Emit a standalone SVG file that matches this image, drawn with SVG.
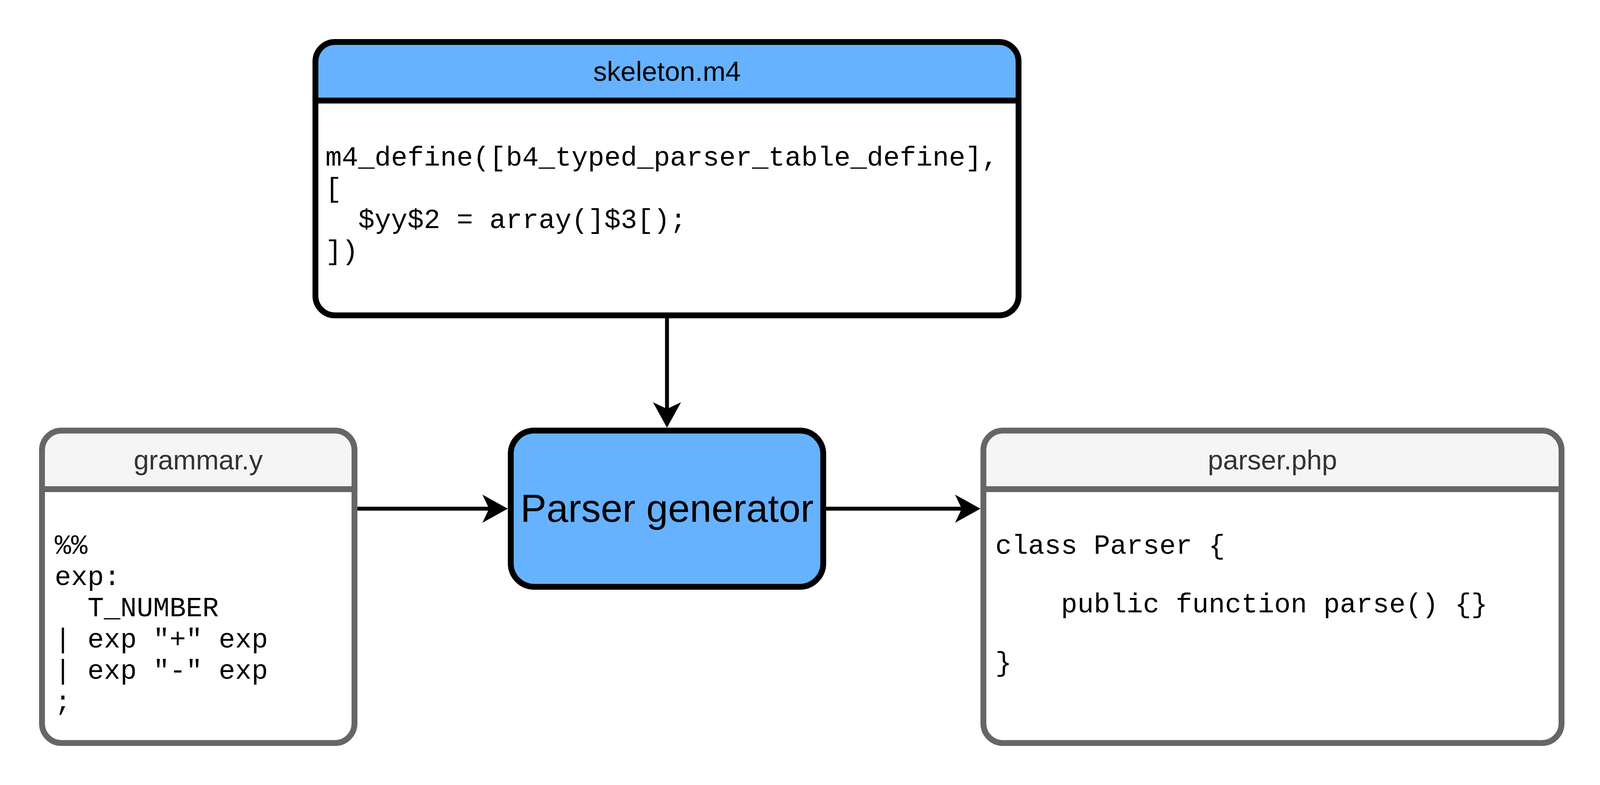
<svg xmlns="http://www.w3.org/2000/svg" width="4110" height="2010" viewBox="0 0 4110 2010">
<style>
.title{font-family:"Liberation Sans",Arial,Helvetica,sans-serif;font-size:70px;text-anchor:middle}
.code{font-family:"Liberation Mono","Courier New",monospace;font-size:70px;fill:#000000;white-space:pre}
.big{font-family:"Liberation Sans",Arial,Helvetica,sans-serif;font-size:100px;text-anchor:middle;fill:#000000}
.edge{stroke:#000000;stroke-width:10;fill:none}
.dark{stroke:#000000;stroke-width:15}
.grey{stroke:#666666;stroke-width:15}
</style>
<defs>
<marker id="arrow" markerUnits="userSpaceOnUse" viewBox="-20 -40 72 80" refX="0" refY="0" markerWidth="72" markerHeight="80" orient="auto">
<path d="M48,0 L-17,-36 L0,0 L-17,36 Z" fill="#000000"/>
</marker>
</defs>
<rect width="4110" height="2010" fill="#ffffff"/>

<g id="skeleton">
<rect x="807.5" y="107.5" width="1800" height="700" rx="50" ry="50" fill="#ffffff"/>
<path d="M807.5,257.5 V157.5 A50,50 0 0 1 857.5,107.5 H2557.5 A50,50 0 0 1 2607.5,157.5 V257.5 Z" fill="#66B2FF"/>
<rect x="807.5" y="107.5" width="1800" height="700" rx="50" ry="50" fill="none" class="dark"/>
<line x1="807.5" y1="257.5" x2="2607.5" y2="257.5" class="dark"/>
<text class="title" x="1707.5" y="207" fill="#000000">skeleton.m4</text>
<text class="code" x="833" y="424">m4_define([b4_typed_parser_table_define],</text>
<text class="code" x="833" y="504">[</text>
<text class="code" x="917" y="584">$yy$2 = array(]$3[);</text>
<text class="code" x="833" y="664">])</text>
</g>

<g id="grammar">
<rect x="107.5" y="1102.5" width="800" height="800" rx="50" ry="50" fill="#ffffff"/>
<path d="M107.5,1252.5 V1152.5 A50,50 0 0 1 157.5,1102.5 H857.5 A50,50 0 0 1 907.5,1152.5 V1252.5 Z" fill="#f5f5f5"/>
<rect x="107.5" y="1102.5" width="800" height="800" rx="50" ry="50" fill="none" class="grey"/>
<line x1="107.5" y1="1252.5" x2="907.5" y2="1252.5" class="grey"/>
<text class="title" x="507.5" y="1202" fill="#333333">grammar.y</text>
<text class="code" x="140" y="1418">%%</text>
<text class="code" x="140" y="1498">exp:</text>
<text class="code" x="224" y="1578">T_NUMBER</text>
<text class="code" x="140" y="1658">| exp "+" exp</text>
<text class="code" x="140" y="1738">| exp "-" exp</text>
<text class="code" x="140" y="1818">;</text>
</g>

<g id="parser-generator">
<rect x="1307.5" y="1102.5" width="800" height="400" rx="60" ry="60" fill="#66B2FF" class="dark"/>
<text class="big" x="1707.5" y="1336">Parser generator</text>
</g>

<g id="parser-php">
<rect x="2517.5" y="1102.5" width="1480" height="800" rx="50" ry="50" fill="#ffffff"/>
<path d="M2517.5,1252.5 V1152.5 A50,50 0 0 1 2567.5,1102.5 H3947.5 A50,50 0 0 1 3997.5,1152.5 V1252.5 Z" fill="#f5f5f5"/>
<rect x="2517.5" y="1102.5" width="1480" height="800" rx="50" ry="50" fill="none" class="grey"/>
<line x1="2517.5" y1="1252.5" x2="3997.5" y2="1252.5" class="grey"/>
<text class="title" x="3257.5" y="1202" fill="#333333">parser.php</text>
<text class="code" x="2548" y="1418">class Parser {</text>
<text class="code" x="2716" y="1568">public function parse() {}</text>
<text class="code" x="2548" y="1718">}</text>
</g>

<g id="connectors">
<line x1="1707.5" y1="815" x2="1707.5" y2="1047" class="edge" marker-end="url(#arrow)"/>
<line x1="915" y1="1302.5" x2="1252" y2="1302.5" class="edge" marker-end="url(#arrow)"/>
<line x1="2115" y1="1302.5" x2="2462" y2="1302.5" class="edge" marker-end="url(#arrow)"/>
</g>
</svg>
